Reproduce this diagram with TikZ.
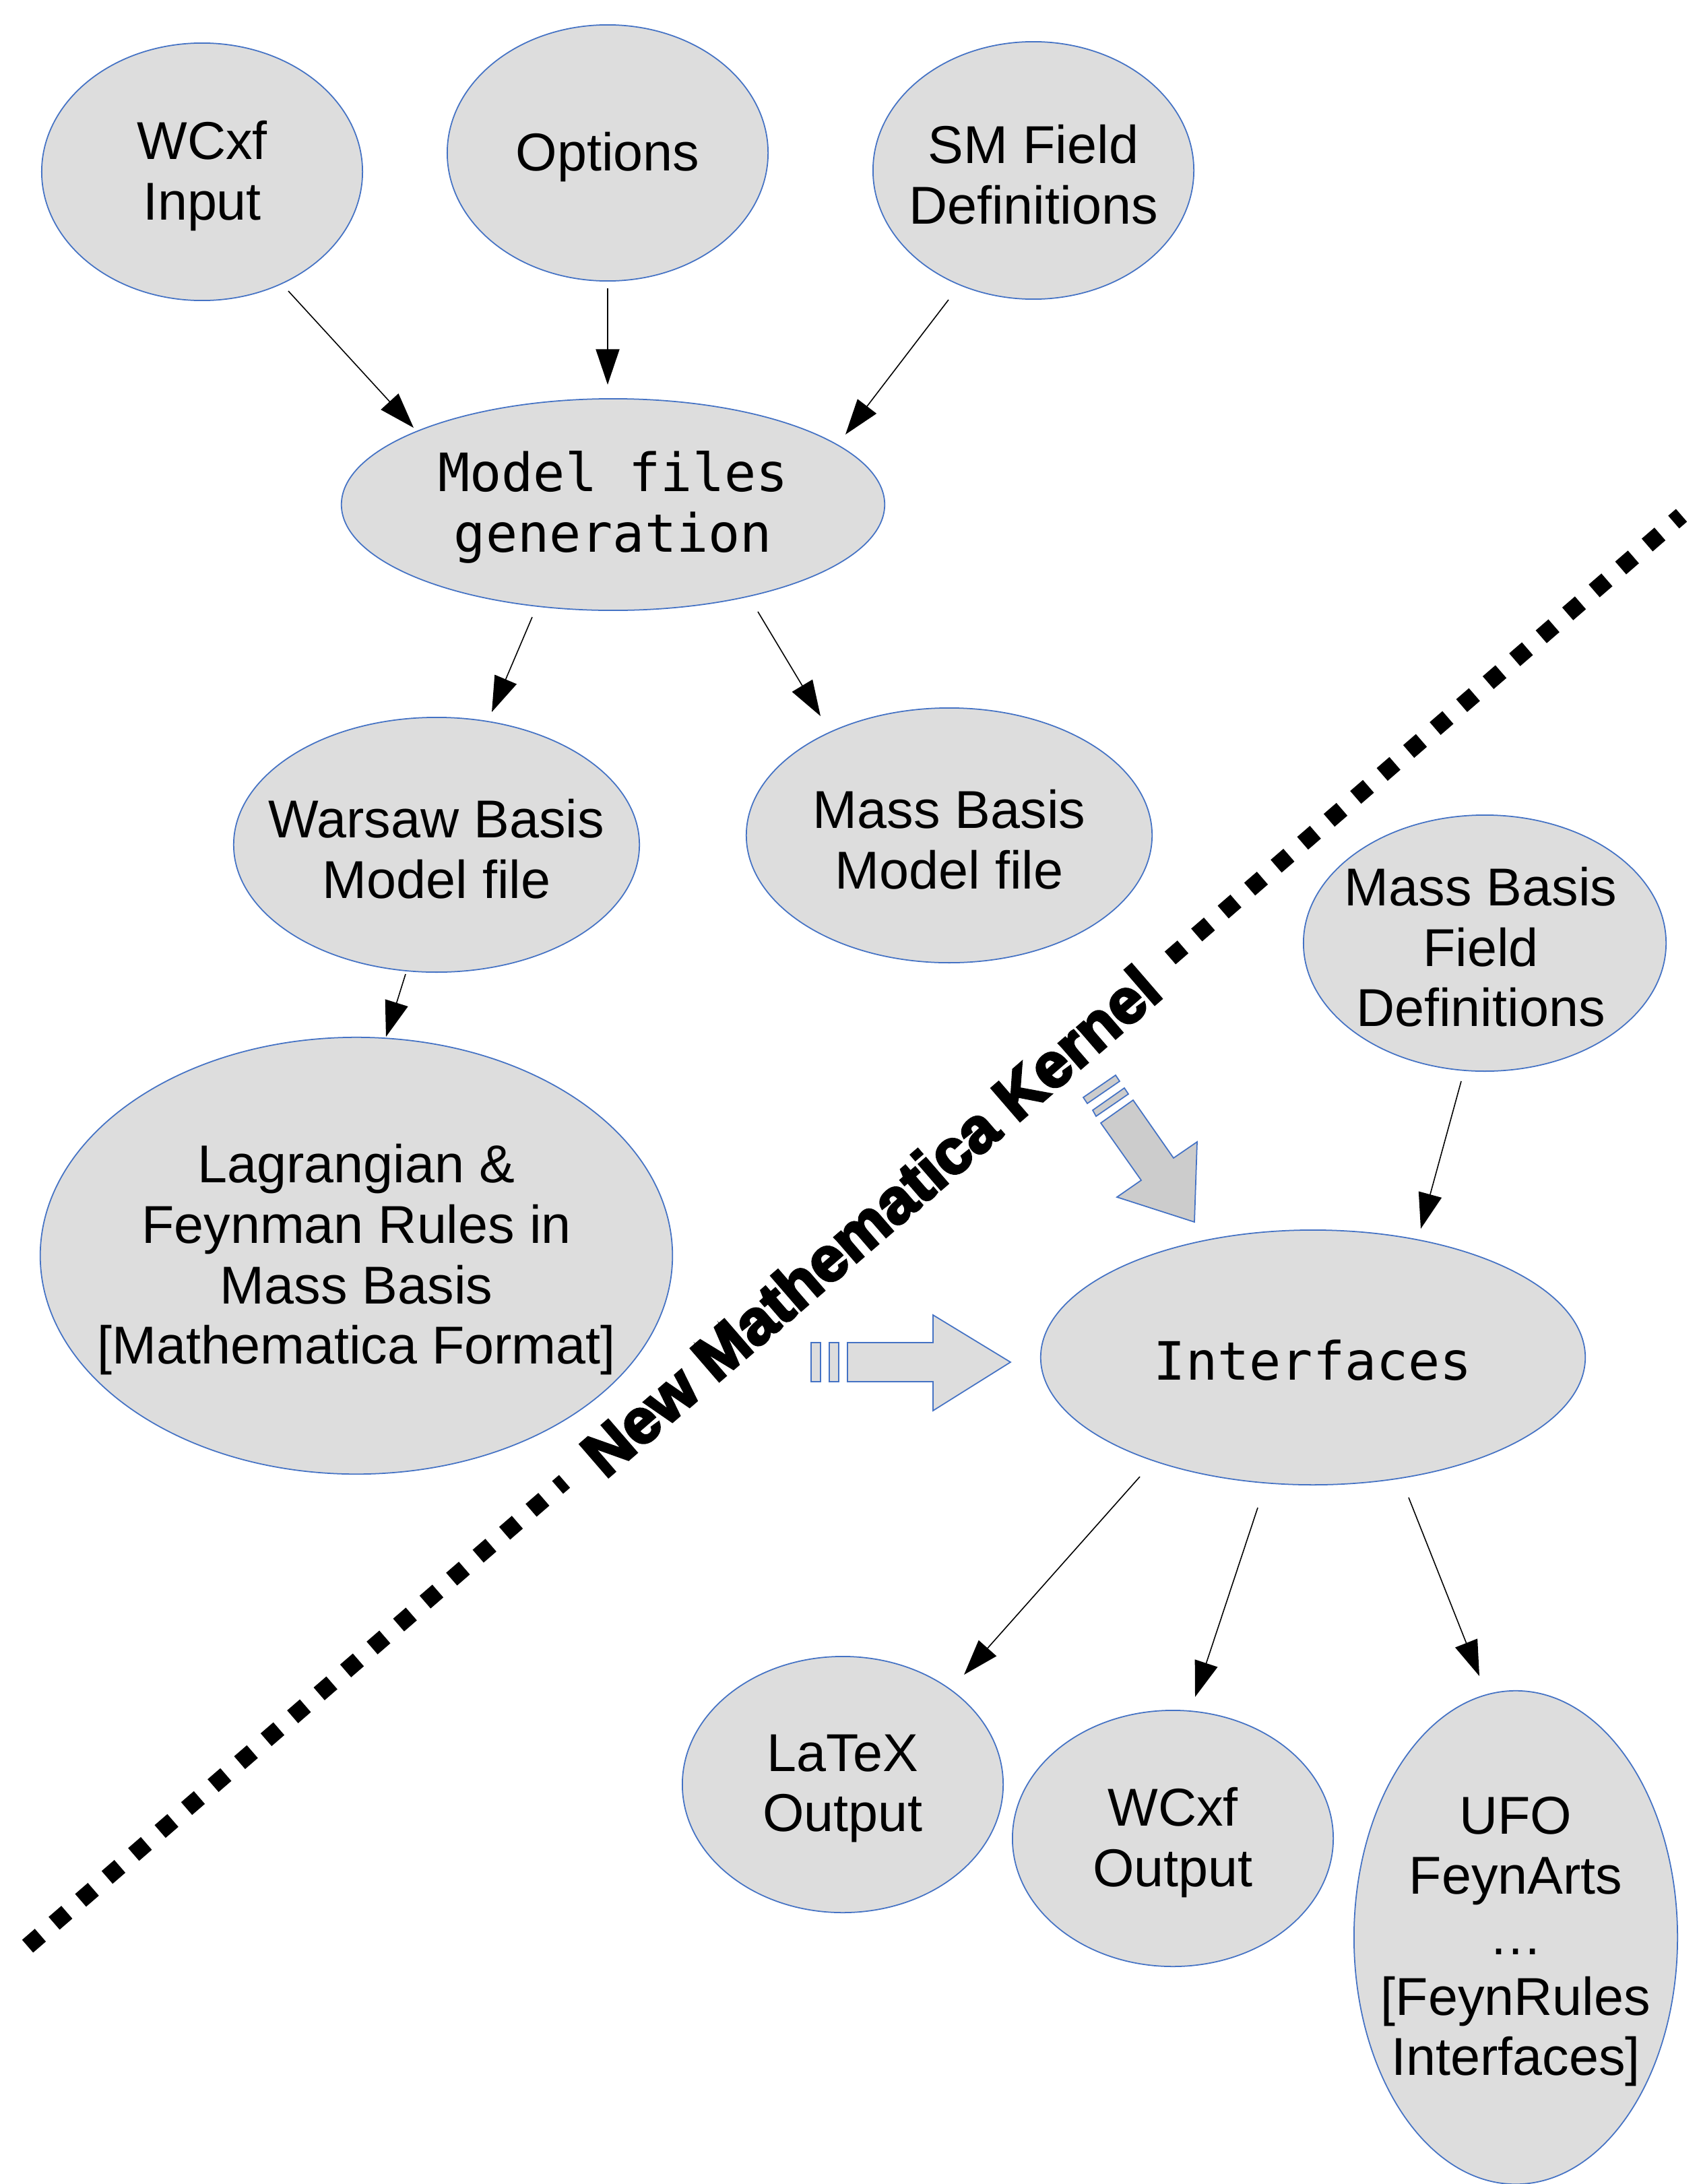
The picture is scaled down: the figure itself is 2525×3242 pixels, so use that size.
\documentclass[tikz,border=0pt]{standalone}
\usepackage{fontspec}
\setmainfont{Liberation Sans}
\newfontfamily\monof{DejaVu Sans Mono}
\newfontfamily\blackf[FakeBold=4]{Liberation Sans Bold}
\usetikzlibrary{shapes.geometric,arrows.meta,calc}
\definecolor{ellfill}{HTML}{DDDDDD}
\definecolor{bordc}{HTML}{4472C4}
\definecolor{darkfill}{HTML}{CCCCCC}
\tikzset{
  ell/.style={ellipse, draw=bordc, fill=ellfill, line width=0.5pt, inner sep=0pt},
  txt/.style={inner sep=0pt, align=center, yshift=-0.06cm, font=\fontsize{22.5}{25.5}\selectfont},
  monotext/.style={inner sep=0pt, align=center, yshift=-0.04cm, font=\monof\fontsize{22.3}{25.5}\selectfont},
  conn/.style={-{Triangle[length=15pt,width=10pt]}, line width=0.45pt, black},
  kernline/.style={line width=0.25cm, dash pattern=on 0.25cm off 0.27cm, black},
  blockarrow/.style={draw=bordc, line width=0.5pt, line join=miter},
}
\begin{document}
\begin{tikzpicture}[x=0.01cm, y=-0.01cm]
\useasboundingbox (0,0) rectangle (2525,3242);
\begin{scope}
\clip (0,0) rectangle (2525,3242);
% ellipses
\node[ell, minimum width=4.76cm, minimum height=3.82cm] (wcxf) at (300,255) {};
\node[ell, minimum width=4.76cm, minimum height=3.80cm] (opts) at (902,227) {};
\node[ell, minimum width=4.76cm, minimum height=3.82cm] (sm) at (1534,253) {};
\node[ell, minimum width=8.06cm, minimum height=3.14cm] (mfg) at (910,749) {};
\node[ell, minimum width=6.02cm, minimum height=3.78cm] (warsaw) at (648,1254) {};
\node[ell, minimum width=6.02cm, minimum height=3.78cm] (mass) at (1409,1240) {};
\node[ell, minimum width=5.38cm, minimum height=3.80cm] (mbfd) at (2204,1400) {};
\node[ell, minimum width=9.38cm, minimum height=6.48cm] (lag) at (529,1864) {};
\node[ell, minimum width=8.08cm, minimum height=3.78cm] (intf) at (1949,2015) {};
\node[ell, minimum width=4.76cm, minimum height=3.80cm] (latex) at (1251,2649) {};
\node[ell, minimum width=4.76cm, minimum height=3.80cm] (wcxfo) at (1741,2729) {};
\node[ell, minimum width=4.80cm, minimum height=7.32cm] (ufo) at (2250,2876) {};
\end{scope}
% texts
\node[txt] (wcxft) at (wcxf) {WCxf\\Input};
\node[txt] (optst) at (opts) {Options};
\node[txt] (smt) at (sm) {SM Field\\Definitions};
\node[monotext] (mfgt) at (mfg) {Model files\\generation};
\node[txt] (warsawt) at (warsaw) {Warsaw Basis\\Model file};
\node[txt] (masst) at (mass) {Mass Basis\\Model file};
\node[txt] (mbfdt) at ($(mbfd)+(-6,0)$) {Mass Basis\\Field\\Definitions};
\node[txt] (lagt) at (lag) {Lagrangian \&\\Feynman Rules in\\Mass Basis\\{[Mathematica Format]}};
\node[monotext] (intft) at (intf) {Interfaces};
\node[txt] (latext) at (latex) {LaTeX\\Output};
\node[txt] (wcxfot) at (wcxfo) {WCxf\\Output};
\node[txt] (ufot) at (ufo) {UFO\\FeynArts\\\dots\\{[FeynRules}\\Interfaces]};
% connectors
\draw[conn] ($(wcxf)+(128,177)$) -- ($(mfg)+(-296,-114)$);
\draw[conn] ($(opts)+(0,201)$) -- ($(mfg)+(-8,-178)$);
\draw[conn] ($(sm)+(-126,192)$) -- ($(mfg)+(345,-104)$);
\draw[conn] ($(mfg)+(-120,167)$) -- ($(warsaw)+(82,-197)$);
\draw[conn] ($(mfg)+(215,159)$) -- ($(mass)+(-191,-177)$);
\draw[conn] ($(warsaw)+(-46,192)$) -- ($(lag)+(44,-325)$);
\draw[conn] ($(mbfd)+(-35,205)$) -- ($(intf)+(160,-191)$);
\draw[conn] ($(intf)+(-257,177)$) -- ($(latex)+(180,-163)$);
\draw[conn] ($(intf)+(-82,223)$) -- ($(wcxfo)+(33,-210)$);
\draw[conn] ($(intf)+(142,208)$) -- ($(ufo)+(-54,-388)$);
% kernel boundary line
\coordinate (k1) at (41,2889);
\coordinate (k2) at (838,2199);
\coordinate (k3) at (1737,1422);
\coordinate (k4) at (2496,765);
\draw[kernline] (k1) -- (k2);
\draw[kernline] (k3) -- (k4);
\node[rotate=40.86, inner sep=0pt, font=\blackf\fontsize{26.5}{30}\selectfont] (kern) at (1292,1812) {New Mathematica Kernel};
% right block arrow
\filldraw[blockarrow, fill=ellfill] (1204,1993) rectangle (1218,2051);
\filldraw[blockarrow, fill=ellfill] (1231,1993) rectangle (1245,2051);
\filldraw[blockarrow, fill=ellfill] (1258,1993) -- (1385,1993) -- (1385,1952) -- (1500,2022) -- (1385,2094) -- (1385,2051) -- (1258,2051) -- cycle;
% diagonal block arrow
\filldraw[blockarrow, fill=darkfill] (1608,1629) -- (1656,1596) -- (1662,1605) -- (1614,1638) -- cycle;
\filldraw[blockarrow, fill=darkfill] (1622,1648) -- (1669,1615) -- (1675,1624) -- (1627,1657) -- cycle;
\filldraw[blockarrow, fill=darkfill] (1634,1667) -- (1682,1633) -- (1742,1719) -- (1777,1695) -- (1773,1814) -- (1658,1777) -- (1694,1752) -- cycle;
\end{tikzpicture}
\end{document}
